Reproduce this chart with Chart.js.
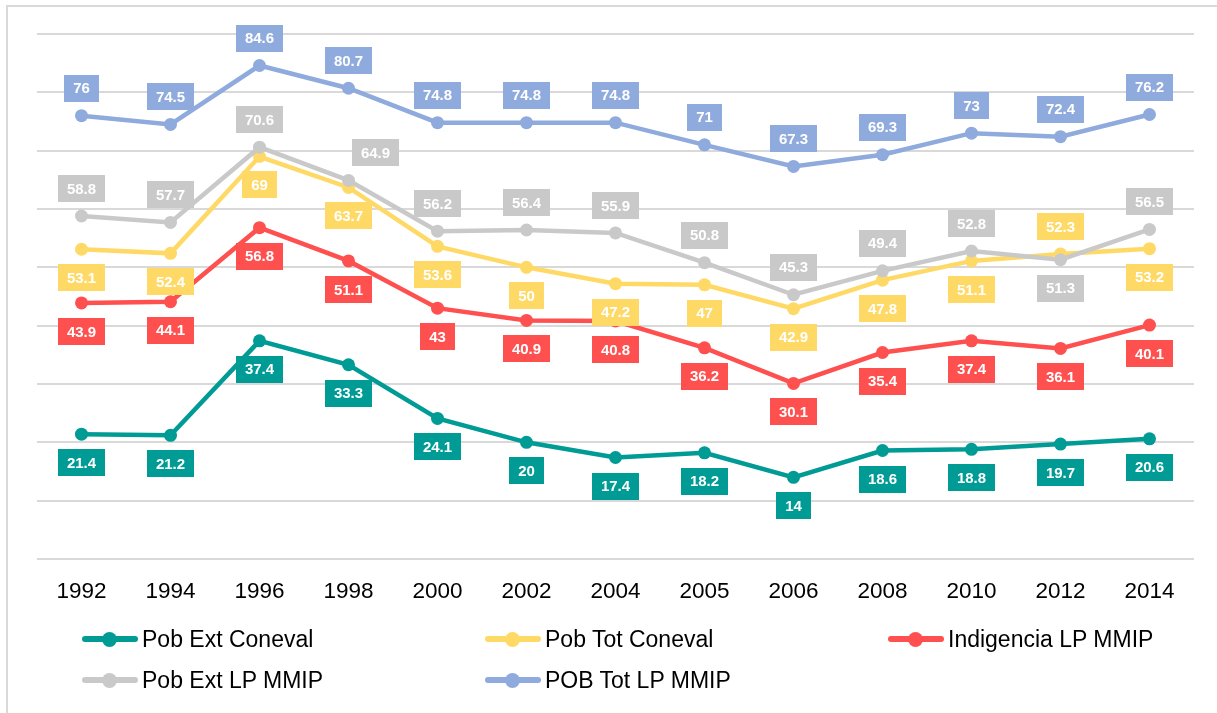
<!DOCTYPE html>
<html>
<head>
<meta charset="utf-8">
<script src="https://cdn.jsdelivr.net/npm/chart.js@4"></script>
<style>
    body { margin: 0; background: #fff; }
    #wrap { position: relative; width: 1217px; height: 713px; overflow: hidden; font-family: "Liberation Sans", Arial, sans-serif; }
    #frame { position: absolute; left: 6px; top: 5px; width: 1300px; height: 800px; border-top: 2px solid #d9d9d9; border-left: 2px solid #d9d9d9; }
    canvas { position: absolute; left: 0; top: 0; }
    #legend { position: absolute; left: 82px; top: 626px; display: grid; grid-template-columns: 403px 403px 403px; row-gap: 15px; }
    .item { display: flex; align-items: center; height: 26px; font-size: 23px; color: #000; }
    .mark { position: relative; width: 56px; height: 6px; border-radius: 3px; margin-right: 4px; }
    .mark::after { content: ''; position: absolute; left: 20px; top: -4.5px; width: 15px; height: 15px; border-radius: 50%; background: inherit; }
</style>
</head>
<body>
<div id="wrap">
    <div id="frame"></div>
    <canvas id="lineChart" width="1217" height="713"></canvas>
    <div id="legend"></div>
</div>
<script>
const years = ['1992', '1994', '1996', '1998', '2000', '2002', '2004', '2005', '2006', '2008', '2010', '2012', '2014'];

const pobExtConeval = [21.4, 21.2, 37.4, 33.3, 24.1, 20, 17.4, 18.2, 14, 18.6, 18.8, 19.7, 20.6];
const pobTotConeval = [53.1, 52.4, 69, 63.7, 53.6, 50, 47.2, 47, 42.9, 47.8, 51.1, 52.3, 53.2];
const indigenciaMMIP = [43.9, 44.1, 56.8, 51.1, 43, 40.9, 40.8, 36.2, 30.1, 35.4, 37.4, 36.1, 40.1];
const pobExtMMIP = [58.8, 57.7, 70.6, 64.9, 56.2, 56.4, 55.9, 50.8, 45.3, 49.4, 52.8, 51.3, 56.5];
const pobTotMMIP = [76, 74.5, 84.6, 80.7, 74.8, 74.8, 74.8, 71, 67.3, 69.3, 73, 72.4, 76.2];

const series = [
    { label: 'Pob Ext Coneval', data: pobExtConeval, color: '#009B95', side: 'below', flip: [] },
    { label: 'Pob Tot Coneval', data: pobTotConeval, color: '#FFD966', side: 'below', flip: [11] },
    { label: 'Indigencia LP MMIP', data: indigenciaMMIP, color: '#FF5050', side: 'below', flip: [] },
    { label: 'Pob Ext LP MMIP', data: pobExtMMIP, color: '#C9C9C9', side: 'above', flip: [11] },
    { label: 'POB Tot LP MMIP', data: pobTotMMIP, color: '#8FAADC', side: 'above', flip: [] }
];

// boxed value labels, drawn on top of every line
const boxLabels = {
    id: 'boxLabels',
    afterDatasetsDraw(chart) {
        const ctx = chart.ctx;
        ctx.save();
        ctx.font = 'bold 15px "Liberation Sans", Arial, sans-serif';
        ctx.textAlign = 'center';
        ctx.textBaseline = 'middle';
        chart.data.datasets.forEach((ds, i) => {
            const s = series[i];
            chart.getDatasetMeta(i).data.forEach((pt, j) => {
                let side = s.side;
                if (s.flip.includes(j)) side = side === 'above' ? 'below' : 'above';
                const text = String(ds.data[j]);
                const w = ctx.measureText(text).width + 18;
                const h = 27;
                let cx = pt.x;
                if (i === 3 && j === 3) cx += 27;
                const cy = side === 'above' ? pt.y - 27.5 : pt.y + 28.5;
                ctx.fillStyle = s.color;
                ctx.fillRect(Math.round(cx - w / 2), Math.round(cy - h / 2), Math.round(w), h);
                ctx.fillStyle = '#fff';
                ctx.fillText(text, cx, cy + 1);
            });
        });
        ctx.restore();
    }
};

new Chart(document.getElementById('lineChart'), {
    type: 'line',
    data: {
        labels: years,
        datasets: series.map((s, i) => ({
            label: s.label,
            data: s.data,
            borderColor: s.color,
            backgroundColor: s.color,
            borderWidth: 4.5,
            pointRadius: 6.5,
            pointBorderWidth: 0,
            pointBackgroundColor: s.color,
            tension: 0,
            order: series.length - i
        }))
    },
    options: {
        responsive: false,
        animation: false,
        devicePixelRatio: 1,
        layout: { padding: { left: 37, right: 23, top: 34, bottom: 114 } },
        plugins: { legend: { display: false }, tooltip: { enabled: false } },
        scales: {
            x: {
                offset: true,
                grid: { display: false, drawTicks: false },
                border: { display: false },
                ticks: {
                    color: '#000',
                    padding: 19,
                    font: { family: '"Liberation Sans", Arial, sans-serif', size: 22.5 }
                },
                afterFit: s => { s.height = 40; }
            },
            y: {
                min: 0,
                max: 90,
                grid: { color: '#d9d9d9', lineWidth: 2, drawTicks: false },
                border: { display: false },
                ticks: { display: false, stepSize: 10 },
                afterFit: s => { s.width = 0; }
            }
        }
    },
    plugins: [boxLabels]
});

const legend = document.getElementById('legend');
series.forEach(s => {
    const item = document.createElement('div');
    item.className = 'item';
    const mark = document.createElement('span');
    mark.className = 'mark';
    mark.style.background = s.color;
    item.appendChild(mark);
    item.appendChild(document.createTextNode(s.label));
    legend.appendChild(item);
});
</script>
</body>
</html>
